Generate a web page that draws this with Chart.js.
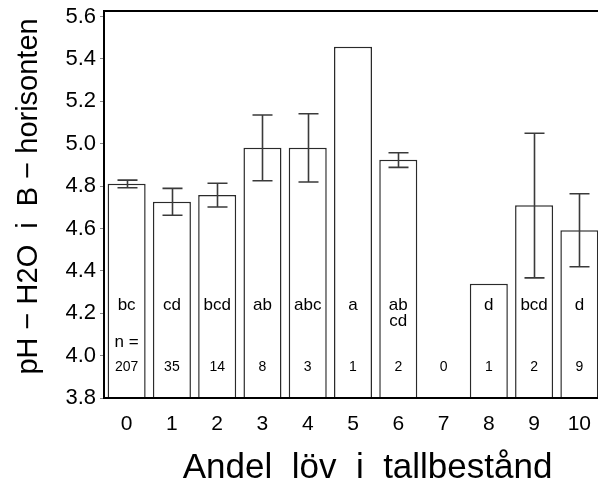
<!DOCTYPE html>
<html>
<head>
<meta charset="utf-8">
<script src="https://cdn.jsdelivr.net/npm/chart.js@4.4.1/dist/chart.umd.min.js"></script>
<style>
  html, body { margin: 0; padding: 0; background: #fff; overflow: hidden; }
  canvas { display: block; }
</style>
</head>
<body>
<canvas id="c" width="602" height="488"></canvas>
<script>
// Share of deciduous trees in pine stands (class 0-10)
const categories = ['0', '1', '2', '3', '4', '5', '6', '7', '8', '9', '10'];
// Mean pH (H2O) in the B horizon
const meanPH = [4.811, 4.726, 4.758, 4.981, 4.981, 5.457, 4.924, null, 4.339, 4.709, 4.591];
// Error bar ends (null where n is too small)
const errHigh = [4.828, 4.789, 4.813, 5.135, 5.141, null, 4.957, null, null, 5.049, 4.764];
const errLow  = [4.792, 4.662, 4.701, 4.825, 4.819, null, 4.888, null, null, 4.367, 4.419];
// Significance groups and sample sizes
const groups = ['bc', 'cd', 'bcd', 'ab', 'abc', 'a', ['ab', 'cd'], '', 'd', 'bcd', 'd'];
const sampleN = [207, 35, 14, 8, 3, 1, 2, 0, 1, 2, 9];
const yTicks = [3.8, 4.0, 4.2, 4.4, 4.6, 4.8, 5.0, 5.2, 5.4, 5.6];

const FONT = '"Liberation Sans", Arial, Helvetica, sans-serif';

// Whisker lines for each bar
const errorBars = {
  id: 'errorBars',
  afterDatasetsDraw(chart) {
    const { ctx, scales: { x, y } } = chart;
    ctx.save();
    ctx.strokeStyle = '#3a3a3a';
    ctx.lineWidth = 1.6;
    const cap = 10;
    categories.forEach((c, i) => {
      if (errHigh[i] == null || errLow[i] == null) return;
      const px = Math.round(x.getPixelForValue(i)) + 0.5;
      const hi = y.getPixelForValue(errHigh[i]);
      const lo = y.getPixelForValue(errLow[i]);
      ctx.beginPath();
      ctx.moveTo(px, hi); ctx.lineTo(px, lo);
      ctx.moveTo(px - cap, hi); ctx.lineTo(px + cap, hi);
      ctx.moveTo(px - cap, lo); ctx.lineTo(px + cap, lo);
      ctx.stroke();
    });
    ctx.restore();
  }
};

// Group letters and n values written inside the columns
const columnText = {
  id: 'columnText',
  afterDatasetsDraw(chart) {
    const { ctx, scales: { x, y } } = chart;
    ctx.save();
    ctx.fillStyle = '#000';
    ctx.textAlign = 'center';
    ctx.textBaseline = 'middle';
    const yGroup = y.getPixelForValue(4.239);
    const yGroup2 = y.getPixelForValue(4.161);
    const yNeq = y.getPixelForValue(4.062);
    const yN = y.getPixelForValue(3.946);
    categories.forEach((c, i) => {
      const px = x.getPixelForValue(i);
      ctx.font = '17px ' + FONT;
      const g = groups[i];
      if (Array.isArray(g)) {
        ctx.fillText(g[0], px, yGroup);
        ctx.fillText(g[1], px, yGroup2);
      } else if (g) {
        ctx.fillText(g, px, yGroup);
      }
      if (i === 0) ctx.fillText('n =', px, yNeq);
      ctx.font = '14px ' + FONT;
      ctx.fillText(String(sampleN[i]), px, yN);
    });
    ctx.restore();
  }
};

// Frame line along the top of the plot area
const topFrame = {
  id: 'topFrame',
  afterDraw(chart) {
    const { ctx, chartArea } = chart;
    ctx.save();
    ctx.strokeStyle = '#000';
    ctx.lineWidth = 2;
    ctx.beginPath();
    ctx.moveTo(chartArea.left - 1, chartArea.top);
    ctx.lineTo(chart.width, chartArea.top);
    ctx.stroke();
    ctx.restore();
  }
};

new Chart(document.getElementById('c'), {
  type: 'bar',
  data: {
    labels: categories,
    datasets: [{
      data: meanPH,
      backgroundColor: '#ffffff',
      borderColor: '#2a2a2a',
      borderWidth: 1.5,
      borderSkipped: 'start',
      barPercentage: 0.84,
      categoryPercentage: 1.0
    }]
  },
  options: {
    responsive: false,
    animation: false,
    devicePixelRatio: 1,
    layout: { padding: { top: 11, left: 0, right: 0, bottom: 0 } },
    plugins: {
      legend: { display: false },
      tooltip: { enabled: false }
    },
    scales: {
      x: {
        offset: true,
        grid: { display: false, drawTicks: false },
        border: { display: true, color: '#000', width: 2, z: 1 },
        ticks: { color: '#000', font: { family: FONT, size: 21 }, padding: 14, maxRotation: 0 },
        title: {
          display: true,
          text: '   Andel  löv  i  tallbestånd',
          color: '#000',
          font: { family: FONT, size: 35, lineHeight: 1.0 },
          padding: { top: 0, bottom: 2 }
        },
        afterFit(scale) {
          scale.height = 90;
          scale.paddingLeft = 0;
          scale.paddingRight = 0;
        }
      },
      y: {
        min: 3.8,
        max: 5.626,
        grid: { display: true, drawOnChartArea: false, drawTicks: true, tickLength: 4, color: '#888', lineWidth: 1 },
        border: { display: true, color: '#000', width: 2, z: 1 },
        ticks: {
          color: '#000',
          font: { family: FONT, size: 22 },
          padding: 4,
          callback: v => Number(v).toFixed(1)
        },
        afterBuildTicks(scale) { scale.ticks = yTicks.map(v => ({ value: v })); },
        title: {
          display: true,
          text: '  pH − H2O  i  B − horisonten',
          color: '#000',
          font: { family: FONT, size: 29, lineHeight: 1.2 },
          padding: { top: 12, bottom: 0 }
        },
        afterFit(scale) {
          scale.width = 104;
          scale.paddingTop = 0;
          scale.paddingBottom = 0;
        }
      }
    }
  },
  plugins: [errorBars, columnText, topFrame]
});
</script>
</body>
</html>
